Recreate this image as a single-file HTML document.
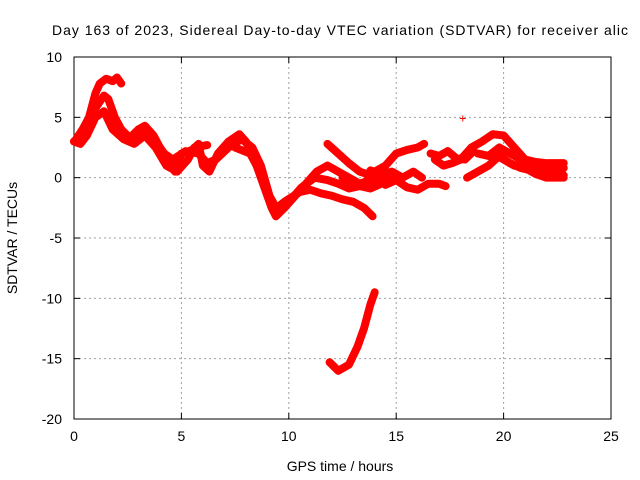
<!DOCTYPE html>
<html><head><meta charset="utf-8"><style>
body{margin:0;background:#fff;}
svg{display:block;font-family:"Liberation Sans",sans-serif;}
</style></head><body>
<svg id="chart" width="640" height="480">
<rect x="0" y="0" width="640" height="480" fill="#fff"/>
<text x="52" y="35" font-size="14" text-anchor="start" textLength="576" lengthAdjust="spacing">Day 163 of 2023, Sidereal Day-to-day VTEC variation (SDTVAR) for receiver alic</text>
<g id="grid"></g>
<g id="axes"></g>
<g id="series"></g>
<text x="340" y="471" font-size="14" text-anchor="middle">GPS time / hours</text>
<text x="0" y="0" font-size="14" text-anchor="middle" transform="translate(17,238) rotate(-90)">SDTVAR / TECUs</text>
</svg>
<script>
const xTicks=[0,5,10,15,20,25];
const yTicks=[10,5,0,-5,-10,-15,-20];
const trackA=[[0.1,3.2],[0.4,4],[0.7,5],[1.0,7],[1.2,7.8],[1.5,8.2],[1.8,8],[2.0,8.3],[2.2,7.8]];
const trackB=[[0,3],[0.3,3.5],[0.6,4.5],[0.9,5.5],[1.2,6.3],[1.4,6.8],[1.6,6.5],[1.9,5],[2.2,4],[2.6,3.3],[3.0,4.0],[3.3,4.3],[3.7,3.5],[4.0,2.5],[4.4,1.5],[4.7,0.5],[5.0,2],[5.5,2.3],[5.8,2.8],[6.0,1],[6.3,0.5],[6.7,2.0],[7.2,3.0],[7.7,3.6],[8.0,3.0],[8.4,1.5],[8.8,-0.5],[9.2,-2.5],[9.4,-3.2],[9.8,-2.5],[10.3,-1.5],[10.8,-0.5],[11.3,0.5],[11.8,1],[12.3,0.5],[12.8,0],[13.3,-0.5],[13.8,-0.2],[14.2,0]];
const trackC=[[0,3],[0.3,2.8],[0.6,3.5],[1.0,5],[1.4,5.5],[1.8,4],[2.3,3.2],[2.8,2.8],[3.3,3.5],[3.8,2.5],[4.3,1],[4.8,0.5],[5.3,1.5],[5.6,2.5],[6.2,2.7]];
const trackC2=[[2.6,3.0],[3.2,3.8],[3.6,3.0],[4.2,2.0],[4.6,1.5],[5.2,2.2],[5.8,2.0],[6.2,1.2],[6.6,1.5],[7.2,2.5],[7.8,3.2],[8.3,2.5],[8.7,1.0],[9.1,-1.5],[9.5,-2.8]];
const trackD=[[7.5,2.5],[8.2,2.0],[8.8,0],[9.3,-2.7],[9.8,-2],[10.5,-1.2],[11.0,-1.0],[11.5,-1.3],[12.0,-1.5],[12.5,-1.8],[13.0,-2],[13.5,-2.5],[13.9,-3.2]];
const trackD2=[[10.0,-2.0],[10.6,-0.8],[11.2,0.0],[11.8,-0.2],[12.3,-0.5],[12.8,-0.9],[13.3,-0.7],[13.8,-0.9],[14.3,-0.5]];
const trackE=[[11.8,2.8],[12.3,2],[12.8,1.2],[13.3,0.5],[13.8,0.2],[14.3,0.0],[14.8,-0.2]];
const trackF=[[11.9,-15.3],[12.3,-16],[12.8,-15.5],[13.2,-14],[13.5,-12.5],[13.8,-10.5],[14.0,-9.5]];
const trackG=[[12.5,0],[13,-0.8],[13.5,-0.5],[14,0.5],[14.5,1.0],[15,2.0],[15.5,2.3],[16,2.5],[16.3,2.8]];
const trackG2=[[13.8,0.6],[14.3,0.3],[14.8,0.5],[15.3,0.0],[15.8,0.5],[16.2,0.0]];
const trackH=[[14.5,-0.6],[15,-0.2],[15.5,-0.8],[16,-1],[16.5,-0.5],[17,-0.5],[17.3,-0.7]];
const trackH2=[[16.6,2.0],[17.0,1.8],[17.4,2.2],[17.8,1.6],[18.2,1.5],[18.6,2.2]];
const trackI=[[16.8,1.5],[17.2,1.0],[17.6,1.2],[18,1.5],[18.5,2.5],[19,3.0],[19.5,3.6],[20,3.5],[20.5,2.5],[21,1.5],[21.5,1.3],[22,1.2],[22.8,1.2]];
const trackJ=[[18.3,0],[18.8,0.5],[19.3,1.0],[19.8,1.8],[20.3,1.2],[20.8,0.8],[21.5,0.5],[22.2,0.3],[22.8,0.2]];
const trackK=[[19.5,2.0],[20,1.5],[20.5,1],[21,0.8],[21.5,0.3],[22,0],[22.8,0]];
const trackK2=[[18.8,2.0],[19.3,1.8],[19.8,2.5],[20.3,2.0],[20.8,1.5],[21.5,1.0],[22.2,0.8],[22.8,0.8]];
const outliers=[[18.1,4.9]];
const tracks=[trackA,trackB,trackC,trackC2,trackD,trackD2,trackE,trackF,trackG,trackG2,trackH,trackH2,trackI,trackJ,trackK,trackK2];

const NS="http://www.w3.org/2000/svg";
const X0=74,X1=611,Y0=57,Y1=419;
const xs=v=>X0+(v-0)/25*(X1-X0);
const ys=v=>Y1-(v+20)/30*(Y1-Y0);
function mk(tag,attrs,parent){const e=document.createElementNS(NS,tag);for(const k in attrs)e.setAttribute(k,attrs[k]);parent.appendChild(e);return e;}
const grid=document.getElementById('grid'),axes=document.getElementById('axes'),series=document.getElementById('series');
xTicks.forEach(t=>{
  const x=xs(t);
  if(t>0&&t<25){const l=mk('line',{x1:x,y1:Y0,x2:x,y2:Y1,stroke:'#a0a0a0','stroke-dasharray':'2,3'},grid);
  
  }
  mk('line',{x1:x,y1:Y1,x2:x,y2:Y1-6,stroke:'#000'},axes);
  mk('line',{x1:x,y1:Y0,x2:x,y2:Y0+6,stroke:'#000'},axes);
  const tx=mk('text',{x:x,y:Y1+22,'font-size':14,'text-anchor':'middle'},axes);tx.textContent=t;
  
  
});
yTicks.forEach(t=>{
  const y=ys(t);
  if(t>-20&&t<10){const l=mk('line',{x1:X0,y1:y,x2:X1,y2:y,stroke:'#a0a0a0','stroke-dasharray':'2,3'},grid);
  
  }
  mk('line',{x1:X0,y1:y,x2:X0+6,y2:y,stroke:'#000'},axes);
  mk('line',{x1:X1,y1:y,x2:X1-6,y2:y,stroke:'#000'},axes);
  const tx=mk('text',{x:X0-12,y:y+5,'font-size':14,'text-anchor':'end'},axes);tx.textContent=t;
  
  
});
mk('rect',{x:X0,y:Y0,width:X1-X0,height:Y1-Y0,fill:'none',stroke:'#000'},axes);
tracks.forEach(tr=>{
  const p=mk('polyline',{points:tr.map(d=>xs(d[0])+','+ys(d[1])).join(' '),fill:'none',stroke:'#ff0000','stroke-width':8,'stroke-linejoin':'round','stroke-linecap':'round'},series);
  
  
});
outliers.forEach(d=>{
  const x=xs(d[0]),y=ys(d[1]);
  const p=mk('path',{d:`M${x-3},${y}H${x+3}M${x},${y-3}V${y+3}`,stroke:'#ff0000','stroke-width':1},series);
  
  
});
</script>
</body></html>
